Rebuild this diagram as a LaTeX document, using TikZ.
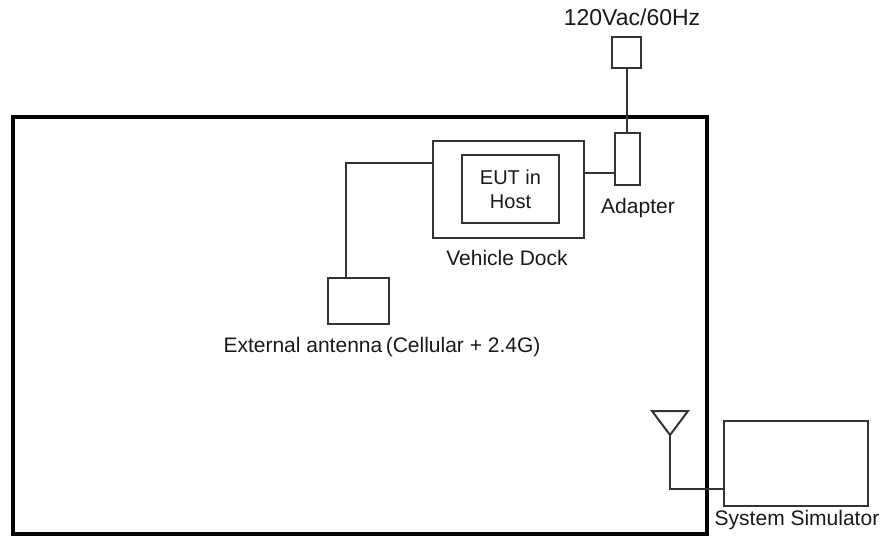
\documentclass[tikz,border=0pt]{standalone}
\usepackage{fontspec}
\setmainfont{Liberation Sans}
\begin{document}
\begin{tikzpicture}[x=1pt,y=-1pt,
  thin box/.style={draw=black!80, line width=2pt, rectangle, inner sep=0pt, fill=white},
  wire/.style={draw=black!80, line width=2pt},
  lbl/.style={inner sep=0pt, text=black!90, font=\fontsize{21}{24}\selectfont, align=center}]
\useasboundingbox (0,0) rectangle (882,538);
% enclosure
\node[draw=black, line width=4pt, rectangle, inner sep=0pt, minimum width=694pt, minimum height=417pt] (room) at (359.5,325.5) {};
% boxes
\node[thin box, minimum width=29pt, minimum height=31pt] (plug) at (626.5,52.5) {};
\node[thin box, minimum width=25pt, minimum height=52pt] (adapter) at (627.5,159) {};
\node[thin box, minimum width=151pt, minimum height=97pt] (dock) at (508.5,189.5) {};
\node[thin box, minimum width=97pt, minimum height=68pt, lbl, font=\fontsize{20}{24}\selectfont] (eut) at (510.5,189) {EUT in\\Host};
\node[thin box, minimum width=61pt, minimum height=46pt] (antbox) at (358.5,301) {};
\node[thin box, minimum width=144pt, minimum height=85pt] (sim) at (796,463.5) {};
% labels
\node[lbl, font=\fontsize{23}{26}\selectfont] (acl) at (632,17) {120Vac/60Hz};
\node[lbl] (adl) at (638,208) {Adapter};
\node[lbl] (vdl) at (507,258) {Vehicle Dock};
\node[lbl] (eal) at (382,347) {External antenna\,(Cellular + 2.4G)};
\node[lbl] (ssl) at (797,520) {System Simulator};
% antenna symbol
\coordinate (tl) at (652,411);
\coordinate (tr) at (688,411);
\coordinate (apex) at (670,435);
\draw[wire, line join=miter] (tl) -- (tr) -- (apex) -- cycle;
% connectors
\draw[wire] (plug.south) -- (plug.south |- adapter.north);
\draw[wire] ([yshift=16.5pt]dock.east) -- ([yshift=-14pt]adapter.west);
\draw[wire] ([yshift=26.5pt]dock.west) -| ([xshift=-12.5pt]antbox.north);
\draw[wire] (apex) |- ([yshift=-25.5pt]sim.west);
\end{tikzpicture}
\end{document}
